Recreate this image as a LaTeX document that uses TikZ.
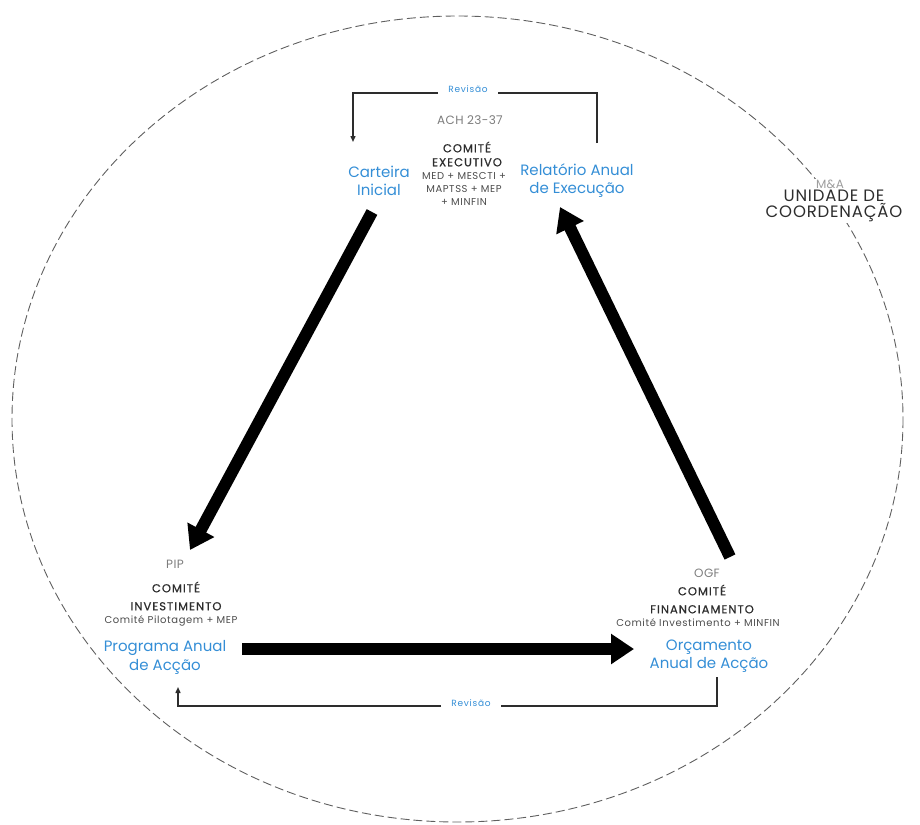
\documentclass[tikz,border=0pt]{standalone}
\usepackage{fontspec}
\setmainfont{Poppins}
\usetikzlibrary{arrows.meta,positioning}

\definecolor{stageblue}{RGB}{52,142,214}
\definecolor{codegray}{RGB}{125,125,125}
\definecolor{darktext}{RGB}{45,45,45}
\definecolor{orbitgray}{RGB}{95,95,95}

\begin{document}
\begin{tikzpicture}[x=1pt, y=-1pt,
	stage/.style={text=stageblue, align=center, inner sep=1pt, font=\fontsize{15}{18}\selectfont},
	comite/.style={text=darktext, align=center, inner sep=1pt, font=\fontsize{11.5}{14}\selectfont\addfontfeatures{LetterSpace=9,FakeBold=0.8}},
	code/.style={text=codegray, inner sep=1pt, font=\fontsize{12}{13}\selectfont\addfontfeatures{LetterSpace=3}},
	members/.style={text=darktext!85, align=center, inner sep=1pt, font=\fontsize{10}{13}\selectfont\addfontfeatures{LetterSpace=6}},
	rev/.style={text=stageblue, anchor=base, inner xsep=10pt, inner ysep=1pt, font=\fontsize{9}{10}\selectfont\addfontfeatures{LetterSpace=8}},
	unit/.style={text=darktext, fill=white, align=center, inner sep=1pt, font=\fontsize{16.5}{16}\selectfont\addfontfeatures{LetterSpace=5}},
	bigarrow/.style={line width=12pt, -{Triangle[width=29pt,length=23pt]}},
	revline/.style={line width=1.4pt, darktext},
	revarrow/.style={revline, -{Triangle[width=5pt,length=6pt]}},
	orbit/.style={draw=orbitgray, line width=0.9pt, dash pattern=on 9pt off 4pt}]

	\useasboundingbox (0,0) rectangle (920,824);

	% outer ring
	\draw[orbit] (457.5,419) ellipse [x radius=445.5, y radius=403];

	% top: executive committee
	\node[rev] (revtop) at (468,93) {Revisão};
	\node[code] (ach) at (470,120) {ACH 23-37};
	\node[comite] (comexec) at (467,154) {COMITÉ\\EXECUTIVO};
	\node[members] (exmemb) at (464,189) {MED + MESCTI +\\MAPTSS + MEP\\+ MINFIN};
	\node[stage] (carteira) at (379,181) {Carteira\\Inicial};
	\node[stage] (relatorio) at (577,181) {Relatório Anual\\de Execução};

	% right: coordination unit
	\node[code, text=codegray!75, fill=white] (ma) at (830,184) {M\&A};
	\node[unit] (unidade) at (834,206) {UNIDADE DE\\COORDENAÇÃO};

	% bottom left: investment committee
	\node[code] (pip) at (175,564) {PIP};
	\node[comite, font=\fontsize{11.5}{18}\selectfont\addfontfeatures{LetterSpace=9,FakeBold=0.8}] (cominv) at (176,596) {COMITÉ\\INVESTIMENTO};
	\node[members] (invmemb) at (171,621) {Comité Pilotagem + MEP};
	\node[stage, font=\fontsize{15}{19}\selectfont] (programa) at (165,657) {Programa Anual\\de Acção};

	% bottom right: financing committee
	\node[code] (ogf) at (707,573) {OGF};
	\node[comite, font=\fontsize{11.5}{18}\selectfont\addfontfeatures{LetterSpace=9,FakeBold=0.8}] (comfin) at (702,599) {COMITÉ\\FINANCIAMENTO};
	\node[members] (finmemb) at (698,623) {Comité Investimento + MINFIN};
	\node[stage] (orcamento) at (709,656) {Orçamento\\Anual de Acção};
	\node[rev] (revbot) at (471,706) {Revisão};

	% main cycle
	\draw[bigarrow] ([shift={(-7,31)}]carteira.center) -- ([shift={(15,-14)}]pip.center);
	\draw[bigarrow] ([shift={(77,-8)}]programa.center) -- ([shift={(-75,-7)}]orcamento.center);
	\draw[bigarrow] ([shift={(23,-16)}]ogf.center) -- ([shift={(-17,26)}]relatorio.center);

	% review loops
	\draw[revline] ([shift={(20,-38)}]relatorio.center) |- (revtop.base east);
	\draw[revarrow] (revtop.base west) -| ([shift={(-26,-39)}]carteira.center);
	\draw[revline] ([shift={(8,21)}]orcamento.center) |- (revbot.base east);
	\draw[revarrow] (revbot.base west) -| ([shift={(13,30)}]programa.center);

\end{tikzpicture}
\end{document}
